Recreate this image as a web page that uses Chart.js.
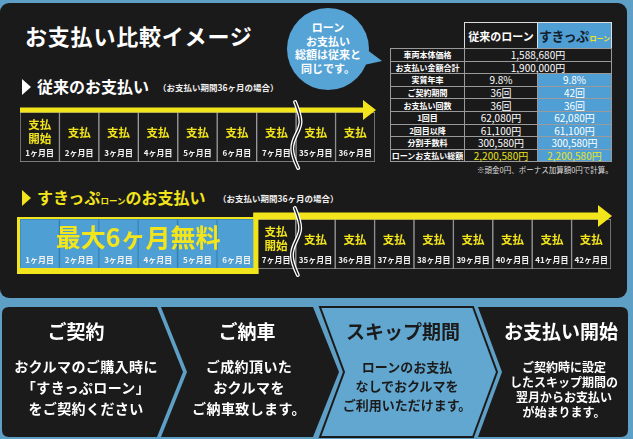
<!DOCTYPE html>
<html lang="ja">
<head>
<meta charset="utf-8">
<title>お支払い比較イメージ</title>
<script src="https://cdn.jsdelivr.net/npm/chart.js"></script>
<style>
  html, body { margin: 0; padding: 0; }
  body {
    width: 633px; height: 439px; position: relative; overflow: hidden;
    background: #5e9fc5;
    font-family: "Noto Sans CJK JP", "Noto Sans", sans-serif;
    font-weight: bold; color: #fff;
  }
  .abs { position: absolute; white-space: nowrap; }
  #panel { position: absolute; left: 0; top: 3px; width: 627px; height: 295px; background: #1b1a1a; border-radius: 9px; }
  #title { left: 25px; top: 22px; font-size: 22px; line-height: 26px; letter-spacing: 0.8px; }
  .tri { position: absolute; width: 0; height: 0; border-top: 8px solid transparent; border-bottom: 8px solid transparent; border-left: 9px solid #fff; }
  .h2 { font-size: 16px; line-height: 20px; }
  .sub { font-size: 8.5px; line-height: 10px; color: #eee; }
  canvas { position: absolute; }
  .tc {
    position: absolute; box-sizing: border-box; border: 1px solid #9a9a9a;
    display: flex; align-items: center; justify-content: center;
    background: #1b1a1a; color: #fff; font-size: 10px; font-weight: normal; white-space: nowrap;
  }
  .tc.lab { font-size: 8px; font-weight: bold; }
  .tc.blue { background: #4f9fd4; }
  .tc.total { color: #e6e41d; }
  .step { position: absolute; text-align: center; white-space: nowrap; transform: translateX(-50%); }
  .step .t { font-size: 19px; line-height: 22px; }
</style>
</head>
<body>
<div id="panel"></div>

<div id="title" class="abs">お支払い比較イメージ</div>

<svg class="abs" style="left:280px;top:3px" width="110" height="95">
  <path d="M86 46 L102 58 L84 62 Z" fill="#56a3d6"/>
  <circle cx="48" cy="46" r="41" fill="#56a3d6"/>
</svg>
<div class="abs" style="left:288px;top:21px;width:80px;text-align:center;font-size:11px;line-height:13.5px;">ローン<br>お支払い<br>総額は従来と<br>同じです。</div>

<div class="tri" style="left:22px;top:79px;"></div>
<div class="abs h2" style="left:37px;top:76px;">従来のお支払い</div>
<div class="abs sub" style="left:158px;top:82px;">（お支払い期間36ヶ月の場合）</div>

<div class="tri" style="left:22px;top:190px;border-left-color:#f3e51b;"></div>
<div class="abs h2" style="left:37px;top:187px;color:#f3e51b;">すきっぷ<span style="font-size:8.5px;">ローン</span>のお支払い</div>
<div class="abs sub" style="left:218px;top:193px;">（お支払い期間36ヶ月の場合）</div>

<canvas id="conventional" width="385" height="80" style="left:0;top:90px;"></canvas>
<canvas id="skip" width="633" height="90" style="left:0;top:195px;"></canvas>

<div id="table"></div>
<div class="abs" style="left:477px;top:165px;font-size:7.5px;line-height:10px;font-weight:normal;color:#ddd;">※頭金0円、ボーナス加算額0円で計算。</div>

<svg class="abs" style="left:0;top:0" width="633" height="439">
  <path d="M2 314 Q2 307 9 307 L157 307 L183 372 L157 437 L9 437 Q2 437 2 430 Z" fill="#1c1b1b"/>
  <path d="M161 307 L313 307 L339 372 L313 437 L161 437 L187 372 Z" fill="#1c1b1b"/>
  <path d="M320 307 L473 307 L497 372 L473 437 L320 437 L344 372 Z" fill="#62a7cf" stroke="#1c1b1b" stroke-width="2"/>
  <path d="M478 307 L621 307 Q628 307 628 314 L628 430 Q628 437 621 437 L478 437 L502 372 Z" fill="#1c1b1b"/>
</svg>

<div class="step" style="left:76px;top:320px;"><div class="t">ご契約</div></div>
<div class="step" style="left:86px;top:356px;font-size:14px;line-height:21px;letter-spacing:0.4px;">おクルマのご購入時に<br>「すきっぷローン」<br>をご契約ください</div>

<div class="step" style="left:247px;top:320px;"><div class="t">ご納車</div></div>
<div class="step" style="left:249px;top:356px;font-size:14px;line-height:21px;letter-spacing:0.4px;">ご成約頂いた<br>おクルマを<br>ご納車致します。</div>

<div class="step" style="left:403px;top:320px;color:#1c1b1b;"><div class="t">スキップ期間</div></div>
<div class="step" style="left:407px;top:357px;font-size:13px;line-height:19px;color:#1c1b1b;">ローンのお支払<br>なしでおクルマを<br>ご利用いただけます。</div>

<div class="step" style="left:561px;top:320px;"><div class="t">お支払い開始</div></div>
<div class="step" style="left:564px;top:359px;font-size:12px;line-height:15px;">ご契約時に設定<br>したスキップ期間の<br>翌月からお支払い<br>が始まります。</div>

<script>
// payment timelines
const conventionalMonths = ['1ヶ月目', '2ヶ月目', '3ヶ月目', '4ヶ月目', '5ヶ月目', '6ヶ月目', '7ヶ月目', '35ヶ月目', '36ヶ月目'];
const conventionalState = ['開始', '支払', '支払', '支払', '支払', '支払', '支払', '支払', '支払'];
const skipMonths = ['1ヶ月目', '2ヶ月目', '3ヶ月目', '4ヶ月目', '5ヶ月目', '6ヶ月目', '7ヶ月目',
  '35ヶ月目', '36ヶ月目', '37ヶ月目', '38ヶ月目', '39ヶ月目', '40ヶ月目', '41ヶ月目', '42ヶ月目'];
const skipState = ['無料', '無料', '無料', '無料', '無料', '無料', '開始', '支払', '支払', '支払', '支払', '支払', '支払', '支払', '支払'];
const freeLabel = '最大6ヶ月無料';

// comparison table
const loanHeaders = ['従来のローン', 'すきっぷ'];
const tableRowLabels = ['車両本体価格', 'お支払い金額合計', '実質年率', 'ご契約期間', 'お支払い回数', '1回目', '2回目以降', '分割手数料', 'ローンお支払い総額'];
const conventionalLoan = ['1,588,680円', '1,900,000円', '9.8%', '36回', '36回', '62,080円', '61,100円', '300,580円', '2,200,580円'];
const skipLoan = [null, null, '9.8%', '42回', '36回', '62,080円', '61,100円', '300,580円', '2,200,580円'];

const YELLOW = '#f3e51b';
const BLUE = '#4e9fd3';
const INK = '#1b1a1a';
const JP = '"Noto Sans CJK JP", sans-serif';

// ---- table ----
const table = document.getElementById('table');
function cell(x, y, w, h, text, cls) {
  const d = document.createElement('div');
  d.className = 'tc ' + (cls || '');
  d.style.left = x + 'px'; d.style.top = y + 'px';
  d.style.width = (w + 1) + 'px'; d.style.height = (h + 1) + 'px';
  if (text !== null) d.innerHTML = text;
  table.appendChild(d);
  return d;
}
const colX = [390, 464, 537], colW = [74, 73, 74];
const rowTop = 48, rowH = 12.6;
const h1 = cell(colX[1], 22, colW[1], 26, loanHeaders[0]);
h1.style.fontSize = '11px'; h1.style.fontWeight = 'bold'; h1.style.borderColor = '#ddd';
const h2 = cell(colX[2], 22, colW[2], 26,
  '<span style="color:#14202c;font-size:13px;letter-spacing:-0.5px">' + loanHeaders[1] + '</span>' +
  '<span style="color:#f3e51b;font-size:7px;margin-left:1px;margin-top:4px">ローン</span>', 'blue');
h2.style.fontWeight = 'bold'; h2.style.borderColor = '#ddd';
tableRowLabels.forEach((lab, i) => {
  const y = rowTop + i * rowH;
  const last = i === tableRowLabels.length - 1;
  cell(colX[0], y, colW[0], rowH, lab, 'lab');
  if (skipLoan[i] === null) {
    cell(colX[1], y, colW[1] + colW[2], rowH, conventionalLoan[i]);
  } else {
    cell(colX[1], y, colW[1], rowH, conventionalLoan[i], last ? 'total' : '');
    cell(colX[2], y, colW[2], rowH, skipLoan[i], 'blue' + (last ? ' total' : ''));
  }
});

// ---- timeline drawing helpers ----
function drawArrow(ctx, x0, x1, y, thick, headLen, headHalf) {
  ctx.fillStyle = YELLOW;
  ctx.fillRect(x0, y - thick / 2, x1 - headLen - x0 + 1, thick);
  ctx.beginPath();
  ctx.moveTo(x1 - headLen, y - headHalf);
  ctx.lineTo(x1, y);
  ctx.lineTo(x1 - headLen, y + headHalf);
  ctx.closePath();
  ctx.fill();
}

function drawBreak(ctx, x, y0, y1) {
  const h = y1 - y0;
  ctx.beginPath();
  ctx.moveTo(x - 1, y0);
  ctx.bezierCurveTo(x + 7, y0 + h * 0.3, x + 5, y0 + h * 0.35, x, y0 + h * 0.5);
  ctx.bezierCurveTo(x - 5, y0 + h * 0.65, x - 6, y0 + h * 0.75, x + 2, y1);
  ctx.lineCap = 'round';
  ctx.strokeStyle = '#fff'; ctx.lineWidth = 4; ctx.stroke();
  ctx.strokeStyle = INK; ctx.lineWidth = 1.4; ctx.stroke();
}

function text(ctx, s, x, y, size, color) {
  ctx.font = 'bold ' + size + 'px ' + JP;
  ctx.fillStyle = color;
  ctx.textAlign = 'center';
  ctx.textBaseline = 'middle';
  ctx.fillText(s, x, y);
}

function cellsPlugin(state, opt) {
  return {
    id: 'cells',
    afterDatasetsDraw(chart) {
      const { ctx, chartArea: a, scales: { x } } = chart;
      const n = chart.data.labels.length;
      const w = (a.right - a.left) / n;
      const free = state.filter(s => s === '無料').length;
      ctx.save();
      if (free) {
        // yellow frame round the free months
        ctx.fillStyle = YELLOW;
        ctx.fillRect(a.left - 2, a.top - 2, free * w + 2, 2);
        ctx.fillRect(a.left - 3, a.top - 2, 3, a.bottom - a.top + 6);
        ctx.fillRect(a.left - 3, a.bottom - 1, free * w + 5, 6);
        ctx.fillRect(a.left + free * w - 3, opt.arrowY - 3, 5, a.bottom - opt.arrowY + 8);
        text(ctx, freeLabel, a.left + free * w / 2, a.top + 18, 25, YELLOW);
      }
      drawArrow(ctx, a.left + (free ? free * w - 3 : 0), a.right + 1, opt.arrowY, opt.thick, opt.headLen, opt.headHalf);
      chart.data.labels.forEach((lab, i) => {
        const cx = x.getPixelForValue(i);
        if (state[i] === '開始') {
          text(ctx, '支払', cx, a.top + 13, 11.5, YELLOW);
          text(ctx, '開始', cx, a.top + 27, 11.5, YELLOW);
        } else if (state[i] === '支払') {
          text(ctx, '支払', cx, a.top + 21, 11.5, YELLOW);
        }
        text(ctx, lab, cx, a.top + 41, 8, '#f2f2f2');
      });
      const bx = a.left + 7 * w;
      drawBreak(ctx, bx, opt.arrowY - 8, a.bottom + 6);
      ctx.restore();
    }
  };
}

function timeline(id, months, state, padding, opt) {
  return new Chart(document.getElementById(id), {
    type: 'bar',
    data: {
      labels: months,
      datasets: [{
        data: months.map(() => 1),
        backgroundColor: state.map(s => s === '無料' ? BLUE : INK),
        borderColor: state.map(s => s === '無料' ? '#3b86b9' : '#9a9a9a'),
        borderWidth: 1,
        borderSkipped: false,
        categoryPercentage: 1,
        barPercentage: 1
      }]
    },
    options: {
      responsive: false,
      animation: false,
      layout: { padding },
      scales: {
        x: { display: false },
        y: { display: false, min: 0, max: 1 }
      },
      plugins: { legend: { display: false }, tooltip: { enabled: false } }
    },
    plugins: [cellsPlugin(state, opt)]
  });
}

timeline('conventional', conventionalMonths, conventionalState,
  { left: 20, right: 10, top: 22, bottom: 8 },
  { arrowY: 20, thick: 5, headLen: 13, headHalf: 10 });

timeline('skip', skipMonths, skipState,
  { left: 20, right: 22, top: 24, bottom: 16 },
  { arrowY: 21, thick: 7, headLen: 14, headHalf: 11 });
</script>
</body>
</html>
